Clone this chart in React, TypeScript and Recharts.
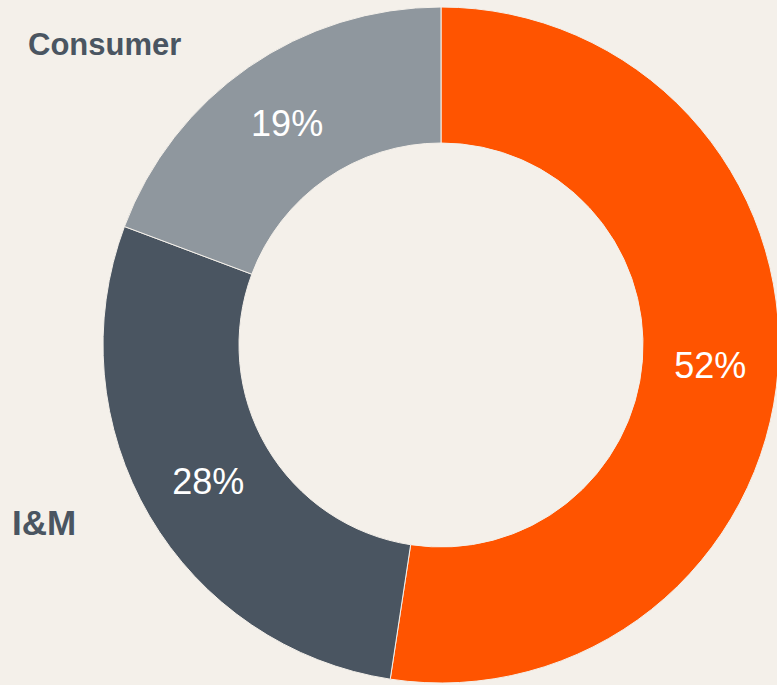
import React from "react";
import { PieChart, Pie, Cell } from "recharts";

// segment names, shares (%) and colours
const segments = ["Other", "I&M", "Consumer"];
const shares = [52.4, 28.3, 19.3];
const colors = ["#ff5400", "#4a5561", "#8f979e"];

const BG = "#f4f0ea";
const RADIAN = Math.PI / 180;

const data = segments.map((name, i) => ({ name, value: shares[i] }));

const renderPct = (props: any) => {
  const { cx, cy, midAngle, innerRadius, outerRadius, value } = props;
  const r = (innerRadius + outerRadius) / 2;
  const x = cx + r * Math.cos(-midAngle * RADIAN);
  const y = cy + r * Math.sin(-midAngle * RADIAN);
  return (
    <text
      x={x}
      y={y}
      fill="#ffffff"
      fontSize={36}
      fontFamily="'Liberation Sans', Arial, sans-serif"
      textAnchor="middle"
      dominantBaseline="central"
    >
      {Math.round(value)}%
    </text>
  );
};

const nameStyle: React.CSSProperties = {
  position: "absolute",
  fontFamily: "'Liberation Sans', Arial, sans-serif",
  fontWeight: "bold",
  color: "#4a5561",
  lineHeight: 1,
  whiteSpace: "nowrap",
};

const App = () => {
  return (
    <div
      style={{
        position: "absolute",
        left: 0,
        top: 0,
        width: 777,
        height: 685,
        background: BG,
        overflow: "hidden",
      }}
    >
      <PieChart width={777} height={685} margin={{ top: 0, right: 0, bottom: 0, left: 0 }}>
        <Pie
          data={data}
          dataKey="value"
          nameKey="name"
          cx={441}
          cy={345}
          innerRadius={202}
          outerRadius={338}
          startAngle={90}
          endAngle={-270}
          stroke={BG}
          strokeWidth={1}
          label={renderPct}
          labelLine={false}
          isAnimationActive={false}
        >
          {data.map((d, i) => (
            <Cell key={d.name} fill={colors[i]} />
          ))}
        </Pie>
      </PieChart>
      <div style={{ ...nameStyle, left: 28, top: 29, fontSize: 31 }}>{segments[2]}</div>
      <div style={{ ...nameStyle, left: 12, top: 505, fontSize: 35 }}>{segments[1]}</div>
    </div>
  );
};

export default App;
